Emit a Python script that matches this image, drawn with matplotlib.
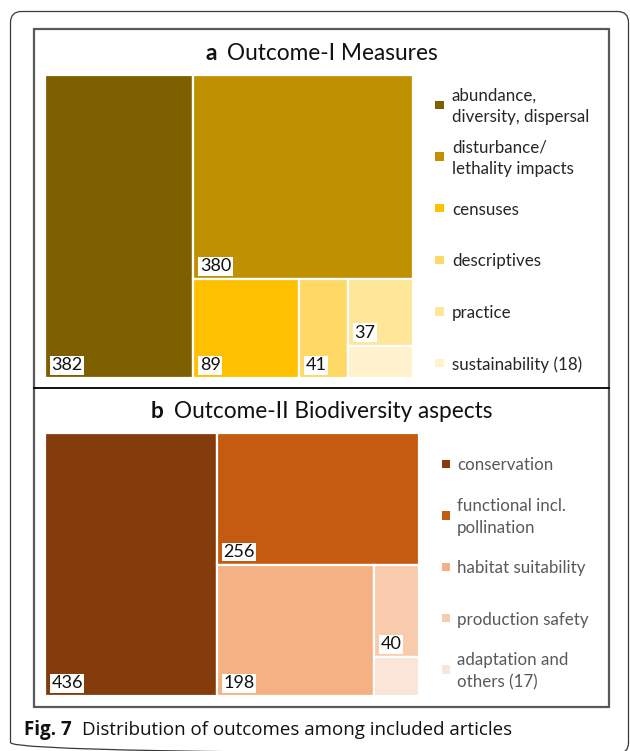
import matplotlib
matplotlib.use("Agg")
import matplotlib.pyplot as plt
from matplotlib.patches import Rectangle, FancyBboxPatch

# ---------------- data ----------------
a_categories = ["abundance,\ndiversity, dispersal", "disturbance/\nlethality impacts",
                "censuses", "descriptives", "practice", "sustainability (18)"]
a_values = [382, 380, 89, 41, 37, 18]
a_colors = ["#7F6000", "#BF9000", "#FFC000", "#FFD966", "#FFE699", "#FFF2CC"]
a_show = [True, True, True, True, True, False]

b_categories = ["conservation", "functional incl.\npollination", "habitat suitability",
                "production safety", "adaptation and\nothers (17)"]
b_values = [436, 256, 198, 40, 17]
b_colors = ["#843C0C", "#C55A11", "#F4B183", "#F8CBAD", "#FBE5D6"]
b_show = [True, True, True, True, False]

title_a = ("a", "Outcome-I Measures")
title_b = ("b", "Outcome-II Biodiversity aspects")
caption = ("Fig. 7", "Distribution of outcomes among included articles")

FONT = "Lato"
W_PX, H_PX = 630, 751

fig = plt.figure(figsize=(W_PX / 100, H_PX / 100), dpi=100)
fig.patch.set_facecolor("white")

# background axes in pixel coordinates for frame decorations
bg = fig.add_axes([0, 0, 1, 1])
bg.set_xlim(0, W_PX)
bg.set_ylim(H_PX, 0)
bg.axis("off")

bg.add_patch(FancyBboxPatch((10.5, 11.5), 618, 742, boxstyle="round,pad=0,rounding_size=11",
                            facecolor="none", edgecolor="#3a3a3a", lw=0.9))
bg.add_patch(Rectangle((34, 29), 575, 678, facecolor="none", edgecolor="#595959", lw=1.6))
bg.plot([34, 609], [388, 388], color="#111111", lw=1.4)


def slice_layout(values, x, y, w, h):
    rects = []
    for i, v in enumerate(values):
        if i == len(values) - 1:
            rects.append((x, y, w, h))
            break
        frac = v / sum(values[i:])
        if w >= h:
            cw = w * frac
            rects.append((x, y, cw, h))
            x += cw
            w -= cw
        else:
            ch = h * frac
            rects.append((x, y, w, ch))
            y += ch
            h -= ch
    return rects


def treemap(left, top, width, height, values, colors, show):
    ax = fig.add_axes([left / W_PX, 1 - (top + height) / H_PX, width / W_PX, height / H_PX])
    ax.set_xlim(0, width)
    ax.set_ylim(height, 0)
    ax.axis("off")
    for (x, y, w, h), v, c, s in zip(slice_layout(values, 0, 0, width, height), values, colors, show):
        ax.add_patch(Rectangle((x, y), w, h, facecolor=c, edgecolor="white", lw=1.6))
        if s:
            ax.annotate(str(v), xy=(x, y + h), xytext=(4.6, 3.4), textcoords="offset points",
                        ha="left", va="bottom", fontsize=13, family=FONT, color="#111111",
                        bbox=dict(boxstyle="square,pad=0.08", facecolor="white", edgecolor="none"))
    return ax


treemap(45, 75, 368, 303, a_values, a_colors, a_show)
treemap(45, 433, 374, 263, b_values, b_colors, b_show)


def legend(cats, colors, mx, tx, y0, pitch, tcolor):
    for i, (cat, col) in enumerate(zip(cats, colors)):
        y = y0 + i * pitch
        bg.add_patch(Rectangle((mx - 4.2, y - 4.2), 8.4, 8.4, facecolor=col, edgecolor="none"))
        bg.text(tx, y + 1.5, cat, ha="left", va="center", fontsize=12.2, family=FONT,
                color=tcolor, linespacing=1.45)


legend(a_categories, a_colors, 439.5, 452, 105, 51.6, "#262626")
legend(b_categories, b_colors, 446, 457, 464, 51.4, "#595959")

renderer = fig.canvas.get_renderer()


def two_part(x_center, y, parts, sizes, weights, family, gap, ha_center=True, x_left=None):
    t1 = bg.text(0, y, parts[0], fontsize=sizes[0], fontweight=weights[0], family=family,
                 va="center", ha="left", color="#111111")
    t2 = bg.text(0, y, parts[1], fontsize=sizes[1], fontweight=weights[1], family=family,
                 va="center", ha="left", color="#111111")
    w1 = t1.get_window_extent(renderer).width
    w2 = t2.get_window_extent(renderer).width
    if ha_center:
        start = x_center - (w1 + gap + w2) / 2
    else:
        start = x_left
    t1.set_x(start)
    t2.set_x(start + w1 + gap)


two_part(321.5, 54, title_a, (16.3, 16.3), ("bold", "normal"), FONT, 10)
two_part(321.5, 412, title_b, (16.3, 16.3), ("bold", "normal"), FONT, 10)
two_part(0, 730, caption, (13.5, 13.5), ("bold", "normal"), "Open Sans", 10,
         ha_center=False, x_left=24)

fig.savefig("out.png", dpi=100)
